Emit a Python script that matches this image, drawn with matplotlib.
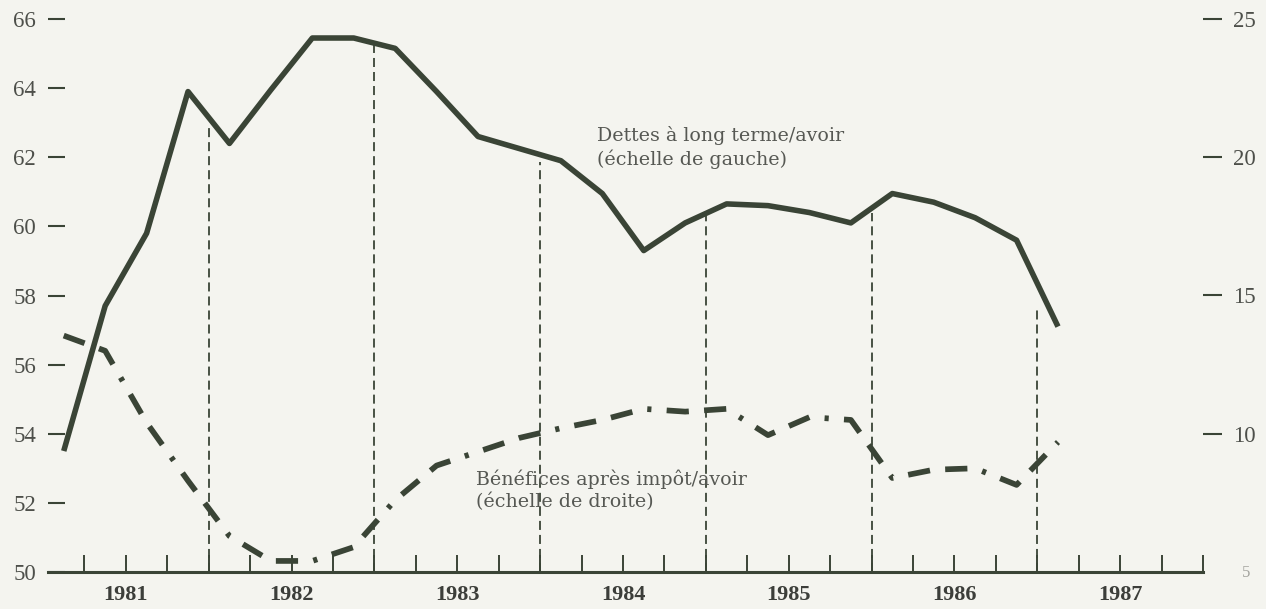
import matplotlib
matplotlib.use("Agg")
import matplotlib.pyplot as plt
import numpy as np

# ---------------- data ----------------
years = [1981, 1982, 1983, 1984, 1985, 1986, 1987]
year_labels = ["1981", "1982", "1983", "1984", "1985", "1986", "1987"]
quarters = [(y, q) for y in years for q in (1, 2, 3, 4)][:25]   # 1981T1 .. 1987T1

# Dettes à long terme / avoir (échelle de gauche, %)
debt_equity = [53.5, 57.7, 59.8, 63.9, 62.4, 63.95, 65.45, 65.45, 65.15, 63.9,
               62.6, 62.25, 61.9, 60.95, 59.3, 60.1, 60.65, 60.6, 60.4, 60.1,
               60.95, 60.7, 60.25, 59.6, 57.1]

# Bénéfices après impôt / avoir (échelle de droite, %)
profit_equity = [13.55, 13.0, 10.4, 8.3, 6.3, 5.4, 5.4, 5.9, 7.6, 8.85,
                 9.35, 9.85, 10.2, 10.5, 10.9, 10.8, 10.9, 9.95, 10.6, 10.5,
                 8.4, 8.7, 8.75, 8.15, 9.7]

# upper ends of the dashed year dividers (left-scale values)
divider_years = [1982, 1983, 1984, 1985, 1986, 1987]
divider_tops = [62.85, 65.3, 61.85, 60.35, 60.4, 57.65]

left_ticks = [50, 52, 54, 56, 58, 60, 62, 64, 66]
right_ticks = [10, 15, 20, 25]
right_bottom_label = 5

label_debt = "Dettes à long terme/avoir\n(échelle de gauche)"
label_profit = "Bénéfices après impôt/avoir\n(échelle de droite)"

# ---------------- style ----------------
plt.rcParams["font.family"] = ["Liberation Serif", "DejaVu Serif"]
plt.rcParams["lines.scale_dashes"] = False

BG = "#f4f4ef"
LINE = "#3a4436"
TXT = "#565853"
TICKTXT = "#4d4f4a"
YEARTXT = "#3c3e3a"

W, H, DPI = 1266, 609, 100
fig = plt.figure(figsize=(W / DPI, H / DPI), dpi=DPI, facecolor=BG)
ax = fig.add_axes([48 / W, 1 - 572 / H, (1203 - 48) / W, (572 - 19) / H])
ax.set_facecolor(BG)
ax2 = ax.twinx()

x = np.array([y + (q - 0.5) / 4 for (y, q) in quarters])

ax.set_xlim(1981.03, 1988.0)
ax.set_ylim(50, 66)
ax2.set_ylim(5, 25)

# year dividers
for yr, top in zip(divider_years, divider_tops):
    ax.plot([yr, yr], [50, top], color=LINE, lw=1.3, dashes=(6.5, 3.6), zorder=2)

# series
ax.plot(x, debt_equity, color=LINE, lw=4.0, solid_joinstyle="round",
        solid_capstyle="butt", clip_on=False, zorder=3)
ax2.plot(x, profit_equity, color=LINE, lw=4.1, dashes=[16, 11, 16, 11, 3, 11],
         dash_capstyle="butt", dash_joinstyle="round", clip_on=False, zorder=3)

# annotations
ax.text(1984.34, 62.9, label_debt, ha="left", va="top", fontsize=13.7,
        family="DejaVu Serif", color=TXT, linespacing=1.3)
ax.text(1983.615, 52.98, label_profit, ha="left", va="top", fontsize=13.7,
        family="DejaVu Serif", color=TXT, linespacing=1.3)

# x axis ticks
ax.set_xticks([y + 0.5 for y in years])
ax.set_xticklabels(year_labels)
minor = [y + f for y in years for f in (0.0, 0.25, 0.75)] + [1988.0]
minor = [m for m in minor if m > 1981.1]
ax.set_xticks(minor, minor=True)
ax.tick_params(axis="x", which="both", direction="in", length=12, width=1.4,
               color=LINE, pad=9)
ax.tick_params(axis="x", which="major", labelsize=16, labelcolor=YEARTXT)
for lbl in ax.get_xticklabels():
    lbl.set_fontweight("bold")

# left y axis
ax.set_yticks(left_ticks)
ax.set_yticklabels([str(v) for v in left_ticks])
ax.tick_params(axis="y", direction="in", length=12, width=1.5, color=LINE,
               pad=8.6, labelsize=16.5, labelcolor=TICKTXT)

# right y axis
ax2.set_yticks(right_ticks)
ax2.set_yticklabels([str(v) for v in right_ticks])
ax2.tick_params(axis="y", direction="out", length=13.7, width=1.5, color=LINE,
                pad=7.9, labelsize=16.5, labelcolor=TICKTXT)
ax2.annotate(str(right_bottom_label), xy=(1.0, right_bottom_label),
             xycoords=ax2.get_yaxis_transform(), xytext=(28, -1),
             textcoords="offset points", ha="left", va="center",
             fontsize=12, color="#a3a39e")

for s in ("left", "right", "top"):
    ax.spines[s].set_visible(False)
    ax2.spines[s].set_visible(False)
ax2.spines["bottom"].set_visible(False)
ax.spines["bottom"].set_linewidth(2.2)
ax.spines["bottom"].set_color(LINE)

fig.savefig("out.png", dpi=DPI, facecolor=BG)
